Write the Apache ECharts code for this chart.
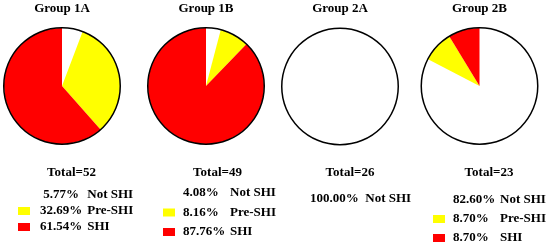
<!DOCTYPE html>
<html>
<head>
<meta charset="UTF-8">
<title>SHI groups</title>
<script src="https://cdn.jsdelivr.net/npm/echarts@6/dist/echarts.min.js"></script>
<style>
  html, body { margin: 0; padding: 0; background: #fff; }
  #container { width: 550px; height: 247px; }
</style>
</head>
<body>
<div id="container"></div>
<script type="text/javascript">
// data (counts per group)
var groups = ['Group 1A', 'Group 1B', 'Group 2A', 'Group 2B'];
var categories = ['Not SHI', 'Pre-SHI', 'SHI'];
var notShi = [3, 2, 26, 19];
var preShi = [17, 4, 0, 2];
var shi = [32, 43, 0, 2];
var totals = [52, 49, 26, 23];
// percentages as printed under each pie
var pctLabels = [
  ['5.77%', '32.69%', '61.54%'],
  ['4.08%', '8.16%', '87.76%'],
  ['100.00%'],
  ['82.60%', '8.70%', '8.70%']
];
var legendNames = [categories, categories, ['Not SHI'], categories];
var colors = ['#ffffff', '#ffff00', '#ff0000'];

// layout
var centerX = [62, 206, 340, 479.5];
var centerY = [86, 86, 86.5, 86];
var totalX = [71.5, 217.5, 350, 489];
var legendLeft = [18, 163, 290, 433];
var legendTop = [188, 186, 192, 193];
var legendGap = [2, 5.5, 5, 5];
var pctWidth = [46, 47, null, 47];
var pctAlign = ['right', 'left', 'left', 'left'];
var pctSep = [' ', '', '  ', ''];
var R = 58;

var font = 'Liberation Serif, Times New Roman, serif';

var dom = document.getElementById('container');
var myChart = echarts.init(dom);

var titles = [];
var legends = [];
var series = [];

groups.forEach(function (g, i) {
  titles.push({
    text: g, left: centerX[i], top: 2, textAlign: 'center', padding: 0,
    textStyle: { fontFamily: font, fontSize: 13, fontWeight: 'bold', color: '#000' }
  });
  titles.push({
    text: 'Total=' + totals[i], left: totalX[i], top: 166, textAlign: 'center', padding: 0,
    textStyle: { fontFamily: font, fontSize: 13, fontWeight: 'bold', color: '#000' }
  });

  var p = { fontFamily: font, fontSize: 13, fontWeight: 'bold', color: '#000', align: pctAlign[i] };
  if (pctWidth[i]) p.width = pctWidth[i];
  legends.push({
    data: legendNames[i],
    orient: 'vertical',
    left: legendLeft[i],
    top: legendTop[i],
    padding: 0,
    itemGap: legendGap[i],
    itemWidth: 12,
    itemHeight: 8,
    icon: 'rect',
    selectedMode: false,
    textStyle: {
      fontFamily: font, fontSize: 13, fontWeight: 'bold', color: '#000',
      lineHeight: 14, padding: [0, 0, 0, 3],
      rich: { p: p }
    },
    formatter: (function (idx) {
      return function (name) {
        var k = categories.indexOf(name);
        return '{p|' + pctLabels[idx][k] + '}' + pctSep[idx] + name;
      };
    })(i)
  });

  series.push({
    name: g,
    type: 'pie',
    center: [centerX[i], centerY[i]],
    radius: R,
    startAngle: 90,
    clockwise: true,
    label: { show: false },
    labelLine: { show: false },
    emphasis: { disabled: true },
    animation: false,
    data: [
      { name: categories[0], value: notShi[i], itemStyle: { color: colors[0] } },
      { name: categories[1], value: preShi[i], itemStyle: { color: colors[1] } },
      { name: categories[2], value: shi[i], itemStyle: { color: colors[2] } }
    ]
  });
  // black outline round each pie
  series.push({
    name: g + ' outline',
    type: 'pie',
    center: [centerX[i], centerY[i]],
    radius: [R - 0.5, R + 1],
    silent: true,
    label: { show: false },
    labelLine: { show: false },
    animation: false,
    data: [{ name: 'outline', value: 1, itemStyle: { color: '#000' } }]
  });
});

var option = {
  backgroundColor: '#fff',
  title: titles,
  legend: legends,
  series: series
};

myChart.setOption(option, true);
</script>
</body>
</html>
